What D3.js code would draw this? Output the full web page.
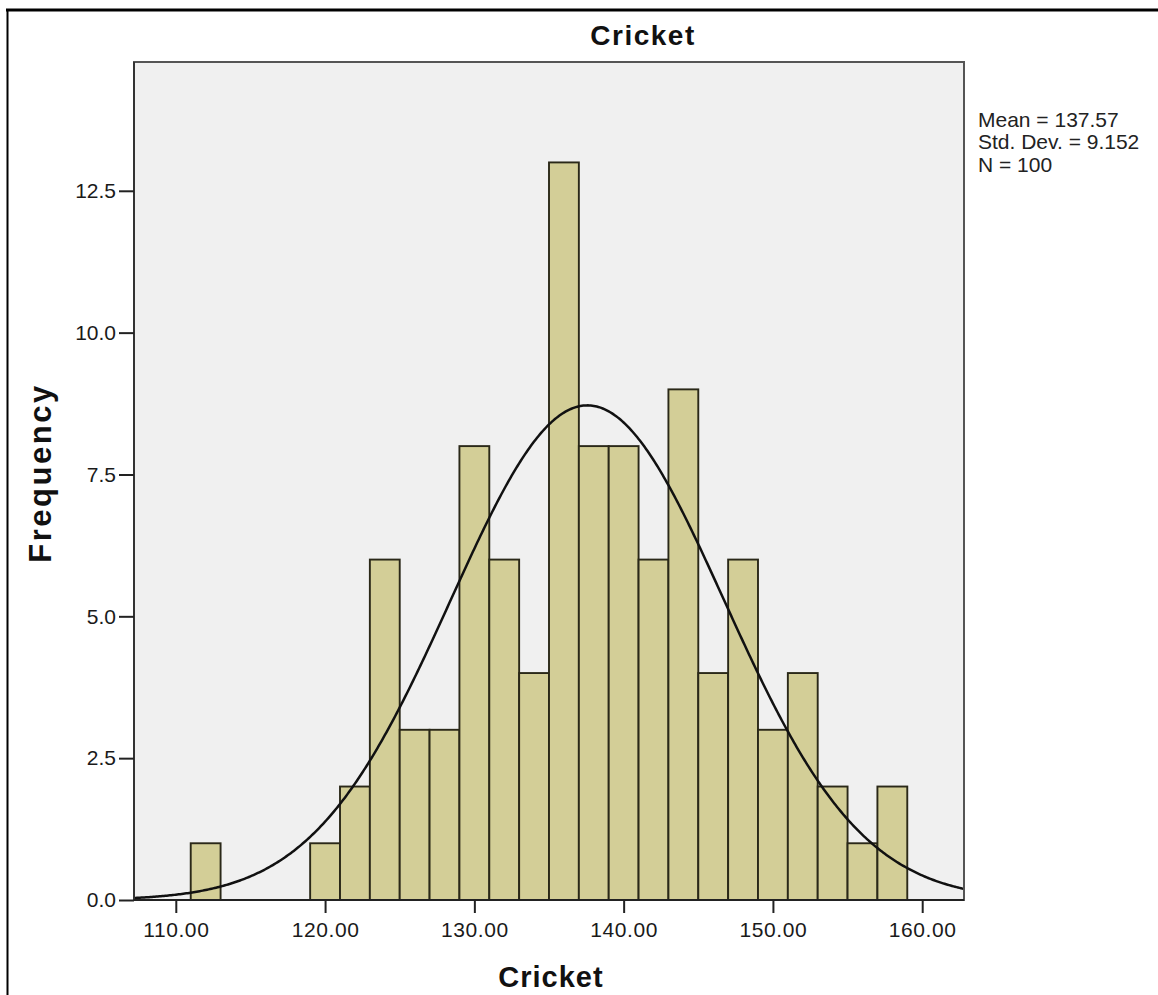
<!DOCTYPE html>
<html>

<head>
    <meta charset="utf-8">
    <style>
        body {
            margin: 0;
            background: #fff;
        }

        svg {
            display: block;
            font-family: 'Liberation Sans', Arial, sans-serif;
        }

        .axis .domain {
            display: none;
        }

        .axis .tick line {
            stroke: #222;
            stroke-width: 2px;
        }

        .axis .tick text {
            font-size: 21px;
            fill: #1a1a1a;
        }

        .title,
        .axis-label {
            font-weight: bold;
            fill: #111;
        }

        .stats {
            font-size: 21px;
            fill: #222;
        }
    </style>
</head>

<body>
    <svg width="1158" height="995"></svg>

    <script src="https://d3js.org/d3.v7.min.js"></script>
    <script>
        // histogram bins (width 2) and counts
        let binStarts = [111, 113, 115, 117, 119, 121, 123, 125, 127, 129, 131, 133,
            135, 137, 139, 141, 143, 145, 147, 149, 151, 153, 155, 157]
        let counts = [1, 0, 0, 0, 1, 2, 6, 3, 3, 8, 6, 4,
            13, 8, 8, 6, 9, 4, 6, 3, 4, 2, 1, 2]
        let binWidth = 2

        let xTicks = [110, 120, 130, 140, 150, 160]
        let yTicks = [0, 2.5, 5, 7.5, 10, 12.5]

        // summary stats printed on the chart
        let mean = 137.57
        let sd = 9.152
        let n = 100
        let statLines = ["Mean = 137.57", "Std. Dev. = 9.152", "N = 100"]

        let svg = d3.select("svg")

        let plot = { left: 134, right: 964, top: 62, bottom: 900 }

        let x = d3.scaleLinear()
            .domain([107.2, 162.8])
            .range([plot.left, plot.right])

        let y = d3.scaleLinear()
            .domain([0, 14.77])
            .range([plot.bottom, plot.top])

        // outer frame (only top and left edges show)
        svg.append("line")
            .attr("x1", 6).attr("x2", 1158)
            .attr("y1", 10).attr("y2", 10)
            .attr("stroke", "#000").attr("stroke-width", 3)
        svg.append("line")
            .attr("x1", 7.5).attr("x2", 7.5)
            .attr("y1", 9).attr("y2", 995)
            .attr("stroke", "#000").attr("stroke-width", 2)

        // plot background
        svg.append("rect")
            .attr("x", plot.left)
            .attr("y", plot.top)
            .attr("width", plot.right - plot.left)
            .attr("height", plot.bottom - plot.top)
            .attr("fill", "#f0f0f0")

        // bars
        svg.append("g")
            .selectAll("rect")
            .data(binStarts.map((b, i) => ({ x0: b, count: counts[i] })).filter(d => d.count > 0))
            .join("rect")
            .attr("x", d => x(d.x0))
            .attr("y", d => y(d.count))
            .attr("width", d => x(d.x0 + binWidth) - x(d.x0))
            .attr("height", d => y(0) - y(d.count))
            .attr("fill", "#d3ce97")
            .attr("stroke", "#2a2818")
            .attr("stroke-width", 1.9)

        // normal curve from the printed mean / sd, scaled to counts
        let curveXs = d3.range(x.domain()[0], x.domain()[1] + 0.01, 0.1)
        let normal = v => n * binWidth * Math.exp(-0.5 * ((v - mean) / sd) ** 2) / (sd * Math.sqrt(2 * Math.PI))

        svg.append("path")
            .datum(curveXs)
            .attr("fill", "none")
            .attr("stroke", "#111")
            .attr("stroke-width", 2.5)
            .attr("d", d3.line().x(d => x(d)).y(d => y(normal(d))))

        // plot border
        svg.append("rect")
            .attr("x", plot.left)
            .attr("y", plot.top)
            .attr("width", plot.right - plot.left)
            .attr("height", plot.bottom - plot.top)
            .attr("fill", "none")
            .attr("stroke", "#555")
            .attr("stroke-width", 2)

        // axis lines left / bottom darker
        svg.append("line")
            .attr("x1", plot.left).attr("x2", plot.left)
            .attr("y1", plot.top).attr("y2", plot.bottom)
            .attr("stroke", "#333").attr("stroke-width", 2)
        svg.append("line")
            .attr("x1", plot.left).attr("x2", plot.right)
            .attr("y1", plot.bottom).attr("y2", plot.bottom)
            .attr("stroke", "#222").attr("stroke-width", 2.2)

        let xAxisSettings = d3.axisBottom(x)
            .tickValues(xTicks)
            .tickSize(13)
            .tickPadding(9)
            .tickFormat(d3.format(".2f"))

        let yAxisSettings = d3.axisLeft(y)
            .tickValues(yTicks)
            .tickSize(15)
            .tickPadding(3)
            .tickFormat(d3.format(".1f"))

        svg.append("g")
            .attr("class", "x axis")
            .attr("transform", `translate(0, ${plot.bottom})`)
            .call(xAxisSettings)
            .selectAll("text")
            .style("letter-spacing", "0.6px")

        svg.append("g")
            .attr("class", "y axis")
            .attr("transform", `translate(${plot.left}, 0)`)
            .call(yAxisSettings)

        // title and axis labels
        svg.append("text")
            .attr("class", "title")
            .attr("x", 643)
            .attr("y", 45)
            .attr("text-anchor", "middle")
            .style("font-size", "28px")
            .style("letter-spacing", "1.5px")
            .text("Cricket")

        svg.append("text")
            .attr("class", "axis-label")
            .attr("x", 551)
            .attr("y", 987)
            .attr("text-anchor", "middle")
            .style("font-size", "29px")
            .style("letter-spacing", "1px")
            .text("Cricket")

        svg.append("text")
            .attr("class", "axis-label")
            .attr("transform", "translate(51, 473) rotate(-90)")
            .attr("text-anchor", "middle")
            .style("font-size", "31px")
            .style("letter-spacing", "2.5px")
            .text("Frequency")

        // stats box
        svg.append("g")
            .selectAll("text")
            .data(statLines)
            .join("text")
            .attr("class", "stats")
            .attr("x", 978)
            .attr("y", (d, i) => 127 + i * 22.3)
            .text(d => d)
    </script>
</body>

</html>
